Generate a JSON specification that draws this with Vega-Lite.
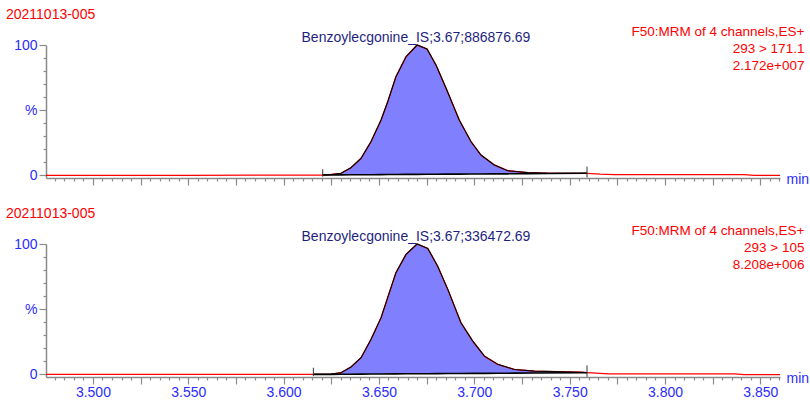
{
  "$schema": "https://vega.github.io/schema/vega-lite/v6.json",
  "autosize": {"type": "pad"},
  "padding": {"left": 5, "top": 8, "right": 2, "bottom": 3},
  "background": "white",
  "config": {
    "view": {"stroke": null},
    "font": "Liberation Sans",
    "axis": {"grid": false, "domainColor": "#8a8a8a", "tickColor": "#8a8a8a", "domainWidth": 1.5, "tickWidth": 1.2, "labelColor": "#2b2bff", "labelFontSize": 14, "labelFont": "Liberation Sans", "tickCount": 200, "labelOverlap": false}
  },
  "bounds": "flush",
  "spacing": 66,
  "datasets": {
    "tr1": [
      {"t": 3.4754, "p": 0}, {"t": 3.55, "p": 0}, {"t": 3.6205, "p": 0.3},
      {"t": 3.6250, "p": 0.7}, {"t": 3.6301, "p": 1.6}, {"t": 3.6353, "p": 5.9}, {"t": 3.6406, "p": 13.1},
      {"t": 3.6458, "p": 25.8}, {"t": 3.6511, "p": 42.5}, {"t": 3.6546, "p": 56.5}, {"t": 3.6589, "p": 75.7},
      {"t": 3.6642, "p": 91.0}, {"t": 3.6700, "p": 100}, {"t": 3.6752, "p": 96.9}, {"t": 3.6799, "p": 84.7},
      {"t": 3.6852, "p": 66.8}, {"t": 3.6921, "p": 42.5}, {"t": 3.6983, "p": 25.8}, {"t": 3.7035, "p": 15.6},
      {"t": 3.7105, "p": 8.0}, {"t": 3.7175, "p": 3.6}, {"t": 3.7280, "p": 2.1}, {"t": 3.7385, "p": 1.7},
      {"t": 3.7591, "p": 1.6}, {"t": 3.7660, "p": 1.0}, {"t": 3.7734, "p": 0.6}, {"t": 3.8414, "p": 0.6},
      {"t": 3.8467, "p": 0}, {"t": 3.8603, "p": 0}
    ],
    "pk1": [
      {"t": 3.6205, "p": 0.3, "base": 0.3}, {"t": 3.6250, "p": 0.7, "base": 0.35}, {"t": 3.6301, "p": 1.6, "base": 0.4},
      {"t": 3.6353, "p": 5.9, "base": 0.45}, {"t": 3.6406, "p": 13.1, "base": 0.5}, {"t": 3.6458, "p": 25.8, "base": 0.55},
      {"t": 3.6511, "p": 42.5, "base": 0.6}, {"t": 3.6546, "p": 56.5, "base": 0.65}, {"t": 3.6589, "p": 75.7, "base": 0.7},
      {"t": 3.6642, "p": 91.0, "base": 0.75}, {"t": 3.6700, "p": 100, "base": 0.8}, {"t": 3.6752, "p": 96.9, "base": 0.85},
      {"t": 3.6799, "p": 84.7, "base": 0.9}, {"t": 3.6852, "p": 66.8, "base": 0.95}, {"t": 3.6921, "p": 42.5, "base": 1.0},
      {"t": 3.6983, "p": 25.8, "base": 1.05}, {"t": 3.7035, "p": 15.6, "base": 1.1}, {"t": 3.7105, "p": 8.0, "base": 1.15},
      {"t": 3.7175, "p": 3.6, "base": 1.2}, {"t": 3.7280, "p": 2.1, "base": 1.3}, {"t": 3.7385, "p": 1.7, "base": 1.4},
      {"t": 3.7591, "p": 1.6, "base": 1.6}
    ],
    "mk1": [{"t": 3.6205, "lo": -1.0, "hi": 4.7}, {"t": 3.7591, "lo": -1.5, "hi": 6.7}],
    "tx1": [{"title": "20211013-005", "info": "F50:MRM of 4 channels,ES+\n293 > 171.1\n2.172e+007", "peak": "Benzoylecgonine_IS;3.67;886876.69"}],
    "tr2": [
      {"t": 3.4754, "p": 0}, {"t": 3.55, "p": 0}, {"t": 3.6156, "p": 0},
      {"t": 3.6249, "p": 0.2}, {"t": 3.6301, "p": 1.3}, {"t": 3.6353, "p": 5.6}, {"t": 3.6406, "p": 12.8},
      {"t": 3.6458, "p": 26.8}, {"t": 3.6511, "p": 43.5}, {"t": 3.6589, "p": 78.0}, {"t": 3.6642, "p": 92.0},
      {"t": 3.6700, "p": 100}, {"t": 3.6756, "p": 96.6}, {"t": 3.6808, "p": 83.0}, {"t": 3.6861, "p": 65.2},
      {"t": 3.6930, "p": 39.6}, {"t": 3.6992, "p": 25.5}, {"t": 3.7053, "p": 14.0}, {"t": 3.7123, "p": 7.7},
      {"t": 3.7210, "p": 3.8}, {"t": 3.7315, "p": 2.5}, {"t": 3.7559, "p": 1.7}, {"t": 3.7591, "p": 1.4},
      {"t": 3.7706, "p": 0.4}, {"t": 3.8362, "p": 0.4}, {"t": 3.8414, "p": -0.2}, {"t": 3.8603, "p": -0.2}
    ],
    "pk2": [
      {"t": 3.6156, "p": 0, "base": 0}, {"t": 3.6249, "p": 0.2, "base": 0.05}, {"t": 3.6301, "p": 1.3, "base": 0.1},
      {"t": 3.6353, "p": 5.6, "base": 0.15}, {"t": 3.6406, "p": 12.8, "base": 0.2}, {"t": 3.6458, "p": 26.8, "base": 0.25},
      {"t": 3.6511, "p": 43.5, "base": 0.3}, {"t": 3.6589, "p": 78.0, "base": 0.4}, {"t": 3.6642, "p": 92.0, "base": 0.45},
      {"t": 3.6700, "p": 100, "base": 0.5}, {"t": 3.6756, "p": 96.6, "base": 0.55}, {"t": 3.6808, "p": 83.0, "base": 0.6},
      {"t": 3.6861, "p": 65.2, "base": 0.65}, {"t": 3.6930, "p": 39.6, "base": 0.7}, {"t": 3.6992, "p": 25.5, "base": 0.75},
      {"t": 3.7053, "p": 14.0, "base": 0.8}, {"t": 3.7123, "p": 7.7, "base": 0.85}, {"t": 3.7210, "p": 3.8, "base": 0.95},
      {"t": 3.7315, "p": 2.5, "base": 1.05}, {"t": 3.7559, "p": 1.7, "base": 1.25}, {"t": 3.7591, "p": 1.4, "base": 1.3}
    ],
    "mk2": [{"t": 3.6156, "lo": -1.3, "hi": 5.1}, {"t": 3.7591, "lo": -1.8, "hi": 6.9}],
    "tx2": [{"title": "20211013-005", "info": "F50:MRM of 4 channels,ES+\n293 > 105\n8.208e+006", "peak": "Benzoylecgonine_IS;3.67;336472.69"}]
  },
  "vconcat": [
    {
      "width": 734,
      "height": 133,
      "layer": [
        {
          "data": {"name": "pk1"},
          "mark": {"type": "area", "color": "#8080ff", "opacity": 1},
          "encoding": {
            "x": {"field": "t", "type": "quantitative", "title": "min", "scale": {"domain": [3.4754, 3.8603], "nice": false, "zero": false},
              "axis": {
                "values": [3.48,3.485,3.49,3.495,3.5,3.505,3.51,3.515,3.52,3.525,3.53,3.535,3.54,3.545,3.55,3.555,3.56,3.565,3.57,3.575,3.58,3.585,3.59,3.595,3.6,3.605,3.61,3.615,3.62,3.625,3.63,3.635,3.64,3.645,3.65,3.655,3.66,3.665,3.67,3.675,3.68,3.685,3.69,3.695,3.7,3.705,3.71,3.715,3.72,3.725,3.73,3.735,3.74,3.745,3.75,3.755,3.76,3.765,3.77,3.775,3.78,3.785,3.79,3.795,3.8,3.805,3.81,3.815,3.82,3.825,3.83,3.835,3.84,3.845,3.85,3.855,3.86],
                "tickCount": 200,
                "labels": false,
                "tickSize": {"condition": {"test": "abs(datum.value*40-round(datum.value*40))<0.01", "value": 7}, "value": 3},
                "title": "min", "titleX": 740, "titleY": 1, "titleAlign": "left", "titleBaseline": "middle", "titleAngle": 0,
                "titleColor": "#2b2bff", "titleFontSize": 14, "titleFontWeight": "normal", "titleFont": "Liberation Sans"
              }},
            "y": {"field": "p", "type": "quantitative", "title": null, "scale": {"domain": [-2, 100], "nice": false, "zero": false},
              "axis": {
                "values": [0,10,20,30,40,50,60,70,80,90,100],
                "tickCount": 200,
                "labelExpr": "datum.value==100 ? '100' : datum.value==50 ? '%' : datum.value==0 ? '0' : ''",
                "tickSize": {"condition": {"test": "datum.value % 50 == 0", "value": 7}, "value": 3},
                "labelPadding": 2, "title": null
              }},
            "y2": {"field": "base"}
          }
        },
        {
          "data": {"name": "tr1"},
          "mark": {"type": "line", "color": "#ff0000", "strokeWidth": 1.3},
          "encoding": {
            "x": {"field": "t", "type": "quantitative", "title": "min"},
            "y": {"field": "p", "type": "quantitative", "title": null}
          }
        },
        {
          "data": {"name": "pk1"},
          "mark": {"type": "line", "color": "#000000", "strokeWidth": 1.1},
          "encoding": {
            "x": {"field": "t", "type": "quantitative", "title": "min"},
            "y": {"field": "p", "type": "quantitative", "title": null}
          }
        },
        {
          "data": {"name": "pk1"},
          "mark": {"type": "line", "color": "#000000", "strokeWidth": 1.6},
          "encoding": {
            "x": {"field": "t", "type": "quantitative", "title": "min"},
            "y": {"field": "base", "type": "quantitative", "title": null}
          }
        },
        {
          "data": {"name": "mk1"},
          "mark": {"type": "rule", "color": "#333333", "strokeWidth": 1},
          "encoding": {
            "x": {"field": "t", "type": "quantitative", "title": "min"},
            "y": {"field": "lo", "type": "quantitative", "title": null},
            "y2": {"field": "hi"}
          }
        },
        {
          "data": {"name": "tx1"},
          "mark": {"type": "text", "color": "#ff0000", "fontSize": 14, "align": "left", "baseline": "middle", "font": "Liberation Sans"},
          "encoding": {
            "x": {"datum": 3.4544, "type": "quantitative"},
            "y": {"datum": 123, "type": "quantitative"},
            "text": {"field": "title"}
          }
        },
        {
          "data": {"name": "tx1"},
          "mark": {"type": "text", "color": "#ff0000", "fontSize": 13.5, "align": "right", "baseline": "middle", "lineBreak": "\n", "lineHeight": 17, "font": "Liberation Sans"},
          "encoding": {
            "x": {"datum": 3.8731, "type": "quantitative"},
            "y": {"datum": 110, "type": "quantitative"},
            "text": {"field": "info"}
          }
        },
        {
          "data": {"name": "tx1"},
          "mark": {"type": "text", "color": "#1f1f80", "fontSize": 14, "align": "center", "baseline": "middle", "font": "Liberation Sans"},
          "encoding": {
            "x": {"datum": 3.6694, "type": "quantitative"},
            "y": {"datum": 105.6, "type": "quantitative"},
            "text": {"field": "peak"}
          }
        }
      ]
    },
    {
      "width": 734,
      "height": 133,
      "layer": [
        {
          "data": {"name": "pk2"},
          "mark": {"type": "area", "color": "#8080ff", "opacity": 1},
          "encoding": {
            "x": {"field": "t", "type": "quantitative", "title": "min", "scale": {"domain": [3.4754, 3.8603], "nice": false, "zero": false},
              "axis": {
                "values": [3.48,3.485,3.49,3.495,3.5,3.505,3.51,3.515,3.52,3.525,3.53,3.535,3.54,3.545,3.55,3.555,3.56,3.565,3.57,3.575,3.58,3.585,3.59,3.595,3.6,3.605,3.61,3.615,3.62,3.625,3.63,3.635,3.64,3.645,3.65,3.655,3.66,3.665,3.67,3.675,3.68,3.685,3.69,3.695,3.7,3.705,3.71,3.715,3.72,3.725,3.73,3.735,3.74,3.745,3.75,3.755,3.76,3.765,3.77,3.775,3.78,3.785,3.79,3.795,3.8,3.805,3.81,3.815,3.82,3.825,3.83,3.835,3.84,3.845,3.85,3.855,3.86],
                "tickCount": 200,
                "labelExpr": "abs(datum.value*20-round(datum.value*20))<0.01 ? format(datum.value, '.3f') : ''",
                "labelPadding": 1,
                "labelOverlap": false,
                "tickSize": {"condition": {"test": "abs(datum.value*40-round(datum.value*40))<0.01", "value": 7}, "value": 3},
                "title": "min", "titleX": 740, "titleY": 1, "titleAlign": "left", "titleBaseline": "middle", "titleAngle": 0,
                "titleColor": "#2b2bff", "titleFontSize": 14, "titleFontWeight": "normal", "titleFont": "Liberation Sans"
              }},
            "y": {"field": "p", "type": "quantitative", "title": null, "scale": {"domain": [-2, 100], "nice": false, "zero": false},
              "axis": {
                "values": [0,10,20,30,40,50,60,70,80,90,100],
                "tickCount": 200,
                "labelExpr": "datum.value==100 ? '100' : datum.value==50 ? '%' : datum.value==0 ? '0' : ''",
                "tickSize": {"condition": {"test": "datum.value % 50 == 0", "value": 7}, "value": 3},
                "labelPadding": 2, "title": null
              }},
            "y2": {"field": "base"}
          }
        },
        {
          "data": {"name": "tr2"},
          "mark": {"type": "line", "color": "#ff0000", "strokeWidth": 1.3},
          "encoding": {
            "x": {"field": "t", "type": "quantitative", "title": "min"},
            "y": {"field": "p", "type": "quantitative", "title": null}
          }
        },
        {
          "data": {"name": "pk2"},
          "mark": {"type": "line", "color": "#000000", "strokeWidth": 1.1},
          "encoding": {
            "x": {"field": "t", "type": "quantitative", "title": "min"},
            "y": {"field": "p", "type": "quantitative", "title": null}
          }
        },
        {
          "data": {"name": "pk2"},
          "mark": {"type": "line", "color": "#000000", "strokeWidth": 1.6},
          "encoding": {
            "x": {"field": "t", "type": "quantitative", "title": "min"},
            "y": {"field": "base", "type": "quantitative", "title": null}
          }
        },
        {
          "data": {"name": "mk2"},
          "mark": {"type": "rule", "color": "#333333", "strokeWidth": 1},
          "encoding": {
            "x": {"field": "t", "type": "quantitative", "title": "min"},
            "y": {"field": "lo", "type": "quantitative", "title": null},
            "y2": {"field": "hi"}
          }
        },
        {
          "data": {"name": "tx2"},
          "mark": {"type": "text", "color": "#ff0000", "fontSize": 14, "align": "left", "baseline": "middle", "font": "Liberation Sans"},
          "encoding": {
            "x": {"datum": 3.4544, "type": "quantitative"},
            "y": {"datum": 123, "type": "quantitative"},
            "text": {"field": "title"}
          }
        },
        {
          "data": {"name": "tx2"},
          "mark": {"type": "text", "color": "#ff0000", "fontSize": 13.5, "align": "right", "baseline": "middle", "lineBreak": "\n", "lineHeight": 17, "font": "Liberation Sans"},
          "encoding": {
            "x": {"datum": 3.8731, "type": "quantitative"},
            "y": {"datum": 110, "type": "quantitative"},
            "text": {"field": "info"}
          }
        },
        {
          "data": {"name": "tx2"},
          "mark": {"type": "text", "color": "#1f1f80", "fontSize": 14, "align": "center", "baseline": "middle", "font": "Liberation Sans"},
          "encoding": {
            "x": {"datum": 3.6694, "type": "quantitative"},
            "y": {"datum": 105.6, "type": "quantitative"},
            "text": {"field": "peak"}
          }
        }
      ]
    }
  ]
}
